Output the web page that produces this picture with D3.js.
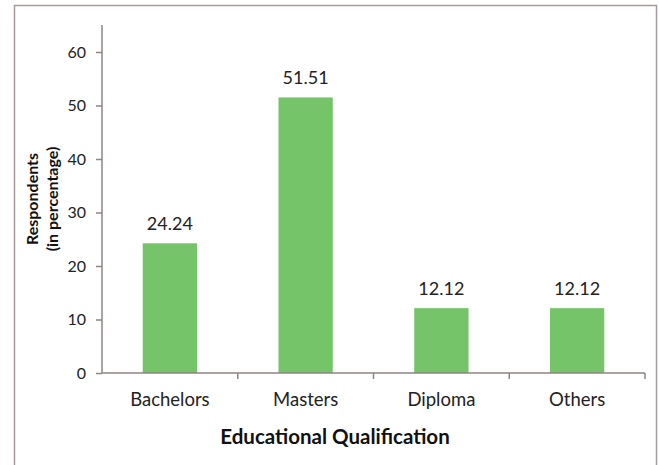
<!DOCTYPE html>
<html><head><meta charset="utf-8">
<script src="https://cdn.jsdelivr.net/npm/d3@7"></script>
<style>body{margin:0;background:#fff;} text{font-family:Lato, "Open Sans", sans-serif;}</style>
</head><body><svg id="c" width="659" height="465"></svg>
<script>
const categories = ["Bachelors", "Masters", "Diploma", "Others"];
const values = [24.24, 51.51, 12.12, 12.12];
const yTicks = [0, 10, 20, 30, 40, 50, 60];

(function () {
const svg = d3.select("#c");
svg.append("rect").attr("x", 14.5).attr("y", 5.5).attr("width", 642).attr("height", 470)
  .attr("fill", "#fff").attr("stroke", "#a89a98").attr("stroke-width", 1.5);

const pLeft = 102, pRight = 645, pTop = 25, pBottom = 373;
const x = d3.scaleBand().domain(categories).range([pLeft, pRight]).paddingInner(0.6).paddingOuter(0.3);
const y = d3.scaleLinear().domain([0, 60]).range([pBottom, 52]);
const axisColor = "#8f8583";

const ya = svg.append("g").attr("transform", `translate(${pLeft},0)`)
  .call(d3.axisLeft(y).tickValues(yTicks).tickSize(6).tickPadding(10).tickFormat(d3.format("d")));
ya.select(".domain").remove();
svg.append("line").attr("x1", pLeft).attr("x2", pLeft).attr("y1", pTop).attr("y2", pBottom).attr("stroke", axisColor).attr("stroke-width", 1.5);
ya.selectAll(".tick line").attr("stroke", axisColor).attr("stroke-width", 1.5);
ya.selectAll(".tick text").attr("font-size", 16).attr("fill", "#222").attr("font-family", "Lato, sans-serif");

svg.selectAll(".bar").data(values).join("rect")
  .attr("x", (d, i) => x(categories[i])).attr("width", x.bandwidth())
  .attr("y", d => y(d)).attr("height", d => y(0) - y(d))
  .attr("fill", "#76c46a");

svg.selectAll(".vl").data(values).join("text")
  .attr("x", (d, i) => x(categories[i]) + x.bandwidth() / 2)
  .attr("y", d => y(d) - 13)
  .attr("text-anchor", "middle").attr("font-size", 18).attr("fill", "#222")
  .text(d => d.toFixed(2));

const bx = d3.scaleBand().domain(categories).range([pLeft, pRight]);
svg.append("line").attr("x1", pLeft).attr("x2", pRight).attr("y1", pBottom).attr("y2", pBottom).attr("stroke", axisColor).attr("stroke-width", 1.5);
const bounds = categories.map(c => bx(c) + bx.bandwidth());
svg.selectAll(".xt").data(bounds).join("line")
  .attr("x1", d => d).attr("x2", d => d).attr("y1", pBottom).attr("y2", pBottom + 6)
  .attr("stroke", axisColor).attr("stroke-width", 1.5);
svg.selectAll(".xl").data(categories).join("text")
  .attr("x", d => bx(d) + bx.bandwidth() / 2).attr("y", 406)
  .attr("text-anchor", "middle").attr("font-size", 18.5).attr("fill", "#222").text(d => d);

svg.append("text").attr("x", 335).attr("y", 444).attr("text-anchor", "middle")
  .attr("font-size", 20.5).attr("font-weight", "bold").attr("fill", "#111").text("Educational Qualification");
const yt = svg.append("text").attr("transform", "translate(38,199) rotate(-90)")
  .attr("text-anchor", "middle").attr("font-size", 16).attr("font-weight", "bold").attr("fill", "#111");
yt.append("tspan").attr("x", 0).attr("dy", 0).text("Respondents");
yt.append("tspan").attr("x", 0).attr("dy", 20).text("(in percentage)");
})();
</script></body></html>
